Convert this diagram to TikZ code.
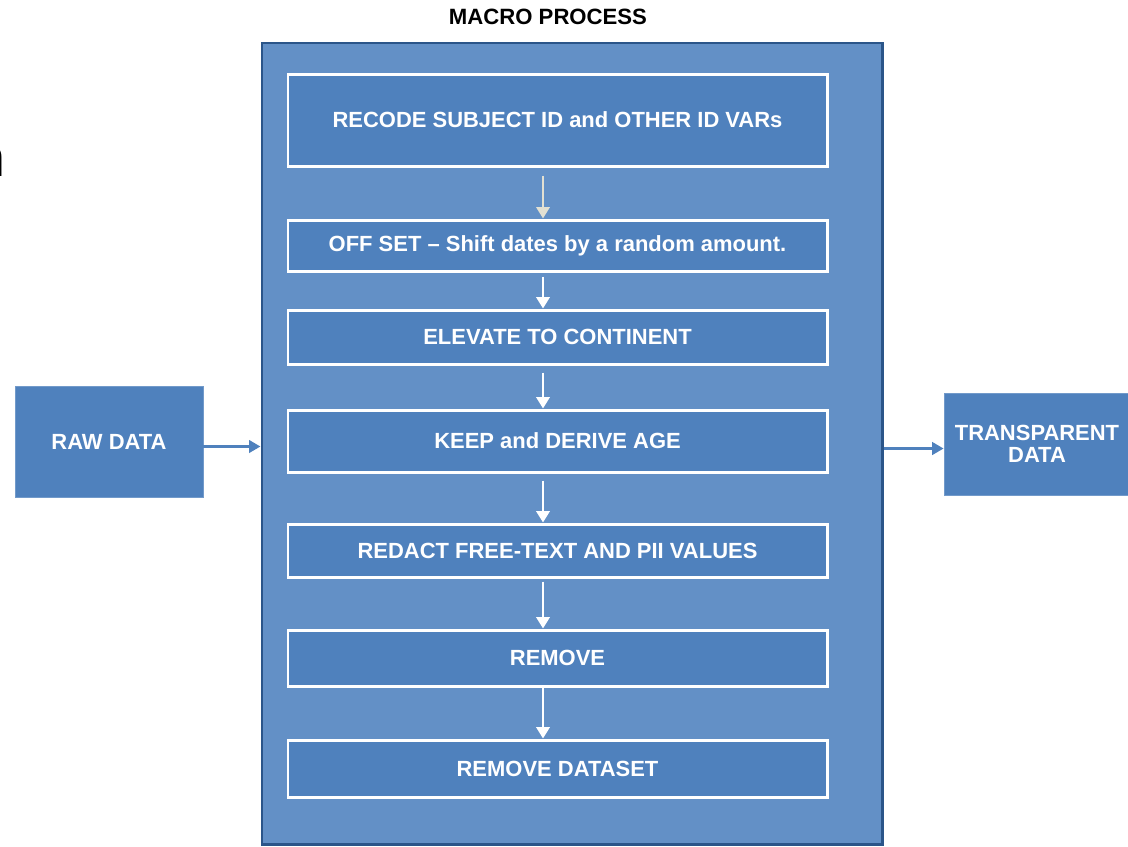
\documentclass[tikz,border=0pt]{standalone}
\usepackage{fontspec}
\setmainfont{Liberation Sans}
\usetikzlibrary{arrows.meta}
\definecolor{innerblue}{HTML}{4F81BD}
\definecolor{outerblue}{HTML}{6390C6}
\definecolor{outerline}{HTML}{2B5589}
\definecolor{firstarrow}{HTML}{E2E0D2}
\tikzset{
  stepbox/.style={draw=white, line width=1.7pt, fill=innerblue, text=white,
    minimum width=539*0.02cm, inner sep=0pt,
    font=\fontsize{12.5}{13}\selectfont\bfseries},
  sidebox/.style={fill=innerblue, draw=innerblue!80!white, line width=0.4pt, text=white,
    inner sep=0pt, align=center,
    font=\fontsize{12.5}{12.5}\selectfont\bfseries},
  flow/.style={draw=white, line width=1.6pt, -{Triangle[length=6.5pt,width=7.5pt]}},
  sideflow/.style={draw=innerblue, line width=1.8pt, -{Triangle[length=6.5pt,width=7pt]}}
}
\begin{document}
\begin{tikzpicture}[x=0.02cm,y=-0.02cm]
\useasboundingbox (0,0) rectangle (1128,846);
% partial letter at left edge
\node[anchor=base west, inner sep=0pt, font=\fontsize{30.6}{32}\selectfont] (frag) at (-25,176) {n};
% title
\node[font=\fontsize{12.6}{13}\selectfont\bfseries] (title) at (548,17) {MACRO PROCESS};
% outer macro box
\node[draw=outerline, line width=1.7pt, fill=outerblue, minimum width=620*0.02cm,
      minimum height=801*0.02cm, inner sep=0pt] (macro) at (572,443.5) {};
% steps
\node[stepbox, minimum height=92*0.02cm] (b1) at (557.5,120) {RECODE SUBJECT ID and OTHER ID VARs};
\node[stepbox, minimum height=51*0.02cm] (b2) at (557.5,245.5) {OFF SET -- Shift dates by a random amount.};
\node[stepbox, minimum height=54*0.02cm] (b3) at (557.5,337) {ELEVATE TO CONTINENT};
\node[stepbox, minimum height=62*0.02cm] (b4) at (557.5,441) {KEEP and DERIVE AGE};
\node[stepbox, minimum height=53*0.02cm] (b5) at (557.5,550.5) {REDACT FREE-TEXT AND PII VALUES};
\node[stepbox, minimum height=56*0.02cm] (b6) at (557.5,658) {REMOVE};
\node[stepbox, minimum height=57*0.02cm] (b7) at (557.5,768.5) {REMOVE DATASET};
% side boxes
\node[sidebox, minimum width=188*0.02cm, minimum height=111*0.02cm] (raw) at (109,441.5) {RAW DATA};
\node[sidebox, minimum width=186*0.02cm, minimum height=102*0.02cm] (trans) at (1037,444) {TRANSPARENT\\DATA};
% arrow column
\coordinate (ax) at (543,0);
\draw[flow, draw=firstarrow, shorten <=8*0.02cm] (b1.south -| ax) -- (b2.north -| ax);
\draw[flow, shorten <=4*0.02cm] (b2.south -| ax) -- (b3.north -| ax);
\draw[flow, shorten <=7*0.02cm] (b3.south -| ax) -- (b4.north -| ax);
\draw[flow, shorten <=7*0.02cm] (b4.south -| ax) -- (b5.north -| ax);
\draw[flow, shorten <=3*0.02cm] (b5.south -| ax) -- (b6.north -| ax);
\draw[flow] (b6.south -| ax) -- (b7.north -| ax);
% side arrows
\draw[sideflow] ([yshift=-0.1cm]raw.east) -- ([yshift=-0.1cm]raw.east -| macro.west);
\draw[sideflow] ([yshift=-0.1cm]macro.east) -- ([yshift=-0.1cm]macro.east -| trans.west);
\end{tikzpicture}
\end{document}
